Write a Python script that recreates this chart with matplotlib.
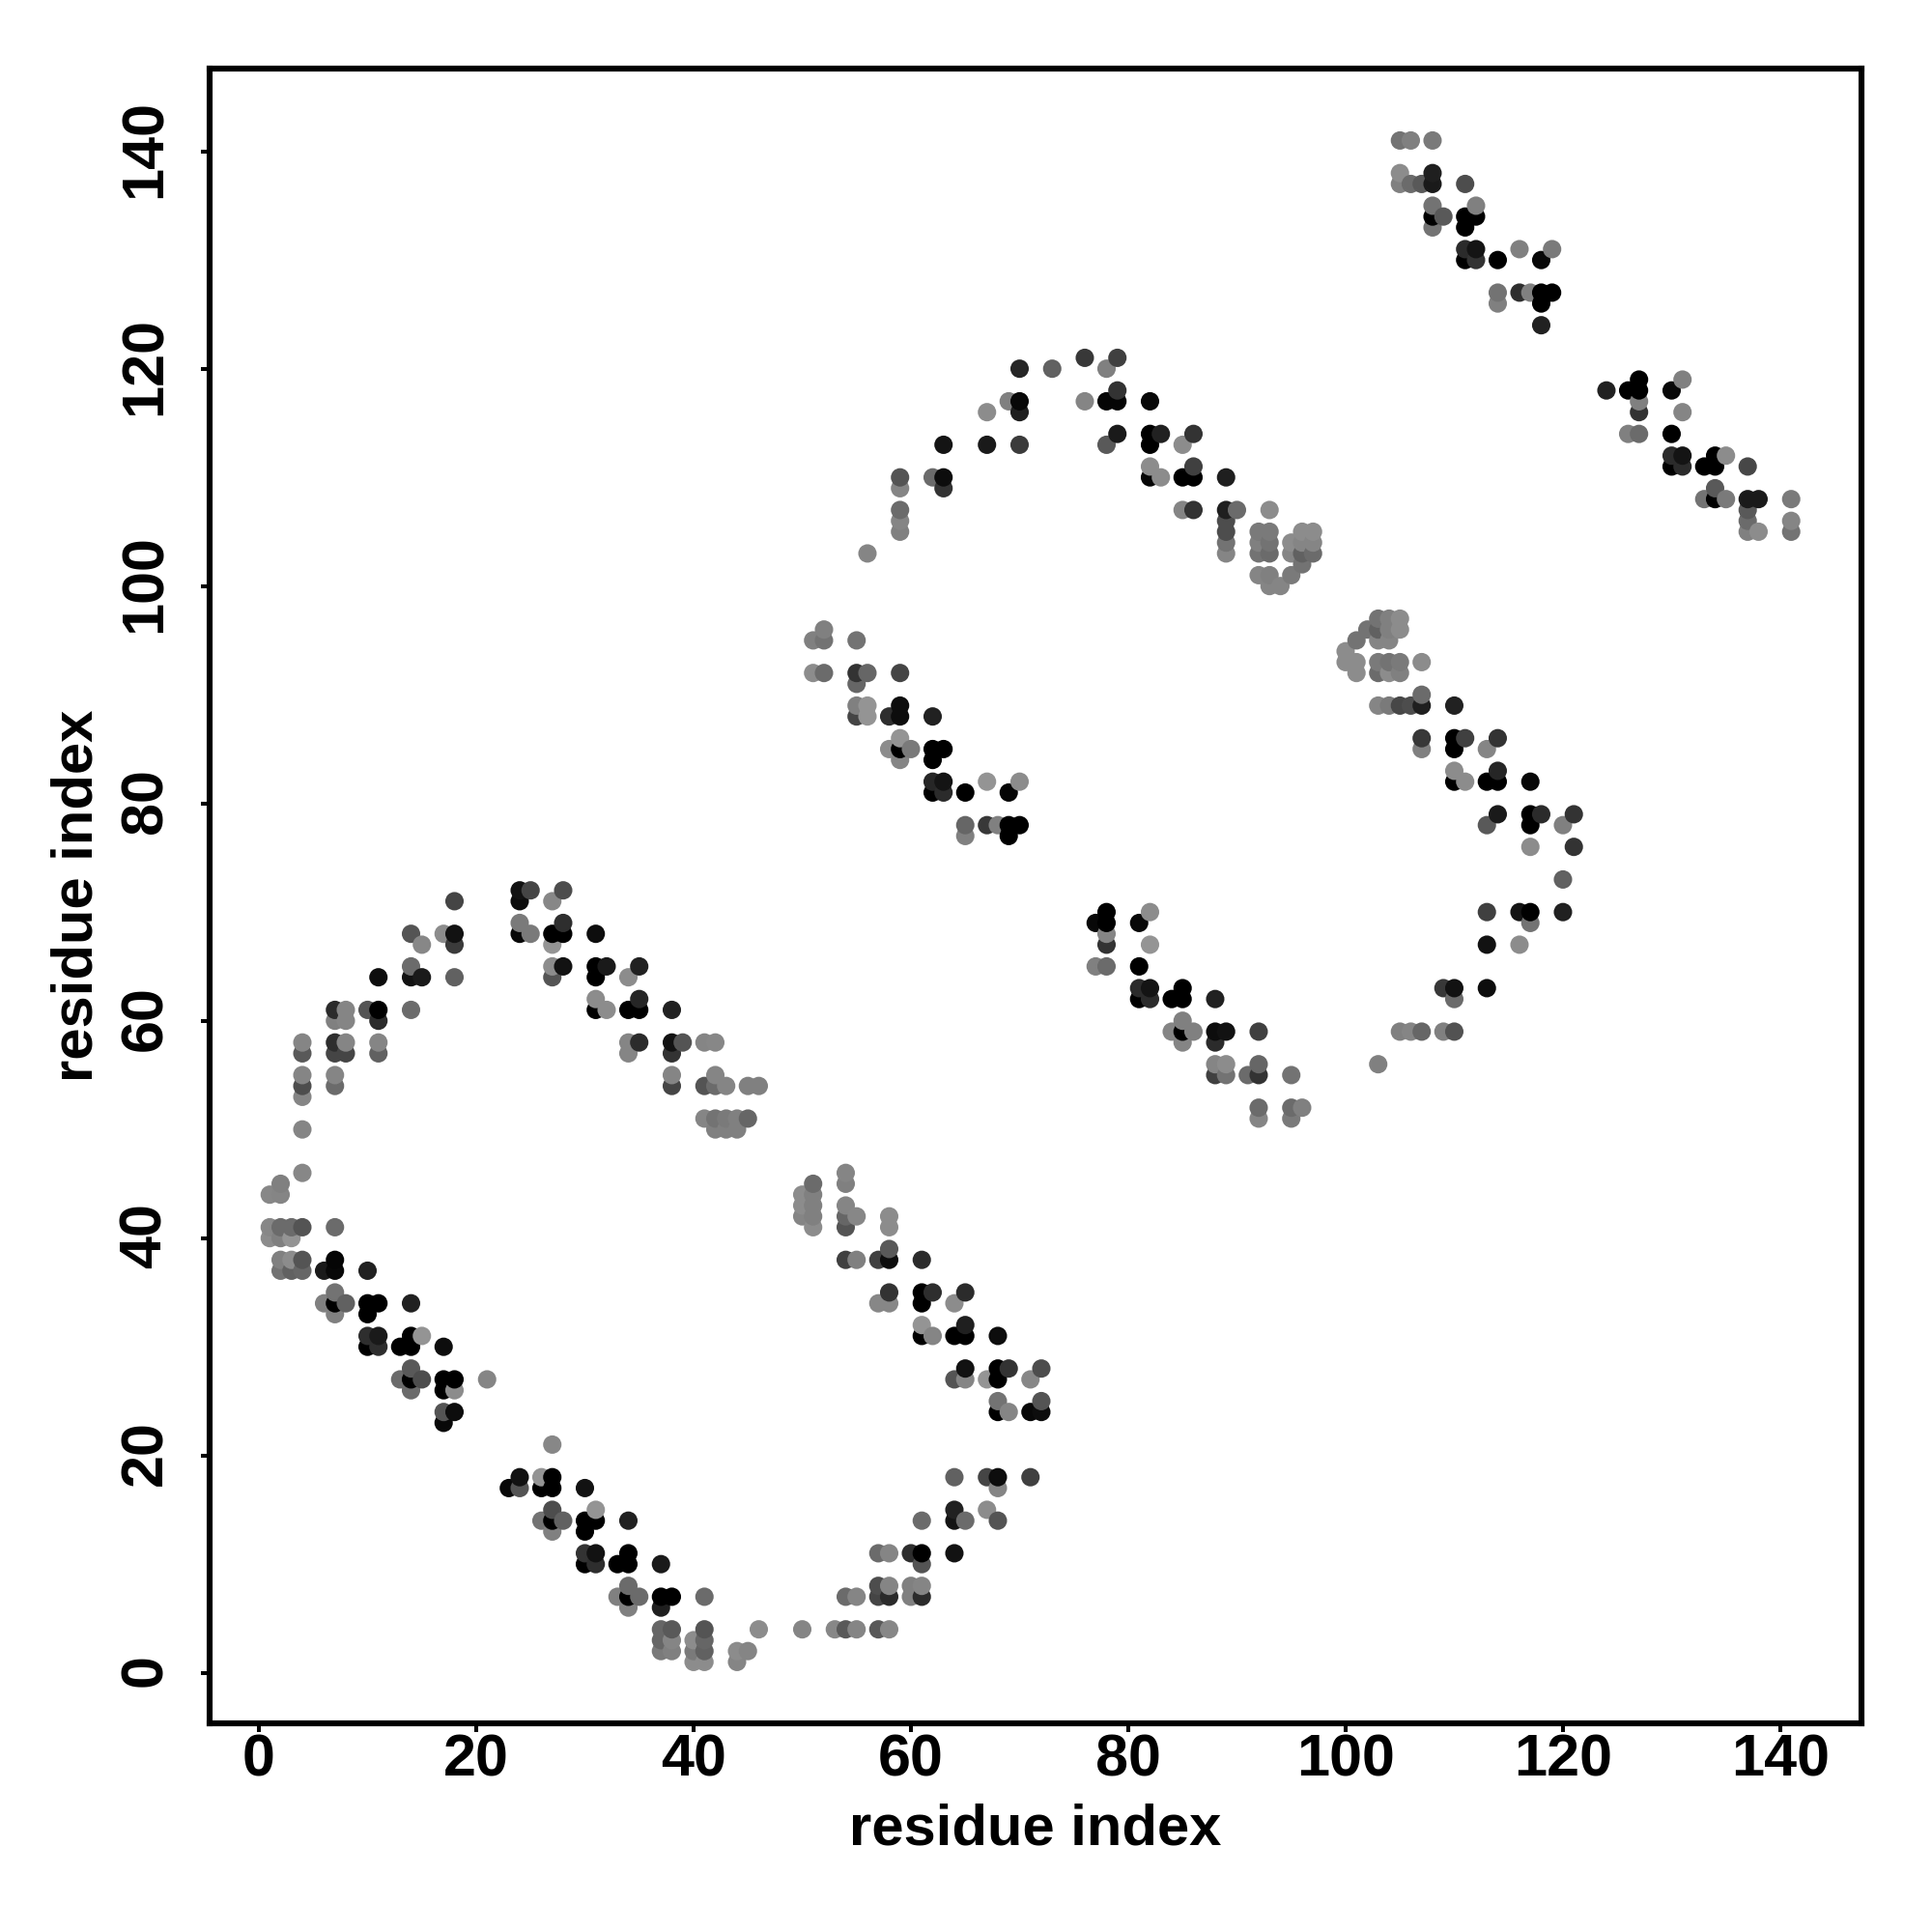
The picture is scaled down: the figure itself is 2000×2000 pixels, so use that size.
import numpy as np
import matplotlib
matplotlib.use("Agg")
import matplotlib.pyplot as plt
from matplotlib.transforms import ScaledTranslation

# (i, j, grey level) contacts, one list per diagonal band
band_a = [
(4,46,.53),(2,45,.5),(1,44,.53),(2,44,.52),(1,41,.53),(2,41,.42),(3,41,.42),(4,41,.33),(7,41,.42),
(1,40,.55),(2,40,.5),(3,40,.58),(2,38,.5),(3,38,.55),(4,38,.33),(7,38,.02),
(2,37,.45),(3,37,.38),(4,37,.4),(6,37,.1),(7,37,.03),(10,37,.13),
(7,35,.45),(6,34,.5),(7,34,0),(8,34,.38),(7,33,.5),(10,34,0),(11,34,0),(10,33,0),(14,34,.13),
(10,31,.18),(11,31,.1),(10,30,0),(11,30,.18),(13,30,0),(14,30,0),(14,31,0),(15,31,.58),(17,30,.05),
(14,28,.35),(13,27,.42),(14,27,0),(15,27,.3),(14,26,.42),(17,27,0),(18,27,0),(21,27,.52),(17,26,0),(18,26,.55),
(17,24,.33),(18,24,.05),(17,23,.03),
]
band_b = [
(27,21,.53),(24,18,.07),(26,18,.58),(27,18,0),(23,17,.03),(24,17,.33),(26,17,0),(27,17,0),(30,17,.07),
(27,15,.3),(31,15,.58),(26,14,.45),(27,14,0),(28,14,.38),(30,14,0),(31,14,0),(34,14,.13),(27,13,.5),(30,13,0),
(30,11,.2),(31,11,.07),(34,11,0),(30,10,0),(31,10,.18),(33,10,0),(34,10,0),(37,10,.1),
(34,8,.42),(33,7,.5),(34,7,0),(35,7,.42),(37,7,0),(38,7,0),(41,7,.42),(34,6,.5),(37,6,.12),
(37,4,.4),(38,4,.35),(41,4,.33),(46,4,.55),(37,3,.4),(38,3,.52),(40,3,.55),(41,3,.4),
(37,2,.48),(38,2,.5),(40,2,.48),(41,2,.38),(44,2,.55),(45,2,.52),(40,1,.55),(41,1,.55),(44,1,.52),
]
band_c = [
(54,46,.52),(51,45,.42),(54,45,.5),(50,44,.55),(51,44,.5),(50,43,.55),(51,43,.5),(54,43,.52),
(50,42,.52),(51,42,.5),(54,42,.4),(55,42,.53),(58,42,.55),(51,41,.55),(54,41,.33),(58,41,.55),
(58,39,.35),(54,38,.25),(55,38,.5),(57,38,.25),(58,38,.05),(61,38,.17),
(58,35,.2),(61,35,0),(62,35,.18),(65,35,.17),(57,34,.53),(58,34,.53),(61,34,0),(64,34,.55),
(61,32,.58),(65,32,.12),(61,31,0),(62,31,.52),(64,31,0),(65,31,0),(68,31,.05),
(65,28,.07),(68,28,0),(69,28,.2),(72,28,.3),(64,27,.33),(65,27,.52),(67,27,.58),(68,27,0),(71,27,.53),
(68,25,.45),(72,25,.33),(68,24,0),(69,24,.52),(71,24,.03),(72,24,.05),
]
band_d = [
(64,18,.38),(67,18,.27),(68,18,.05),(71,18,.25),(68,17,.52),(64,15,.13),(67,15,.55),
(61,14,.42),(64,14,.08),(65,14,.42),(68,14,.33),(57,11,.42),(58,11,.52),(60,11,.18),(61,11,0),(64,11,.07),
(61,10,.33),(57,8,.3),(58,8,.52),(60,8,.5),(61,8,.52),(54,7,.42),(55,7,.52),(57,7,.27),(58,7,.17),(60,7,.5),(61,7,.17),
(50,4,.52),(53,4,.53),(54,4,.35),(55,4,.52),(57,4,.35),(58,4,.53),
]
band_e = [
(24,72,.07),(25,72,.27),(28,72,.3),(18,71,.27),(24,71,.05),(27,71,.53),(24,69,.48),(28,69,.18),
(14,68,.33),(17,68,.55),(18,68,.07),(24,68,.03),(25,68,.48),(27,68,0),(28,68,0),(31,68,.05),
(15,67,.53),(18,67,.23),(27,67,.58),(14,65,.42),(27,65,.55),(28,65,.07),(31,65,0),(32,65,.1),(35,65,.13),
(11,64,.05),(14,64,.07),(15,64,.1),(18,64,.38),(27,64,.33),(31,64,0),(34,64,.55),(31,62,.55),(35,62,.15),
(7,61,.17),(8,61,.52),(10,61,.33),(11,61,0),(14,61,.42),(31,61,0),(32,61,.55),(34,61,0),(35,61,0),(38,61,.13),
(7,60,.5),(8,60,.52),(11,60,.17),(4,58,.52),(7,58,.18),(8,58,.52),(11,58,.52),(34,58,.52),(35,58,.17),(38,58,.07),(39,58,.33),(41,58,.52),(42,58,.53),
(4,57,.35),(7,57,.27),(8,57,.27),(11,57,.38),(34,57,.52),(38,57,.2),(4,55,.52),(7,55,.52),(38,55,.52),(42,55,.52),
(4,54,.3),(7,54,.42),(38,54,.27),(41,54,.33),(42,54,.42),(43,54,.52),(45,54,.5),(46,54,.5),(4,53,.52),
(41,51,.52),(42,51,.45),(43,51,.48),(44,51,.5),(45,51,.4),(4,50,.52),(42,50,.5),(43,50,.5),(44,50,.5),
]
band_f = [
(52,96,.5),(51,95,.5),(52,95,.45),(55,95,.45),(51,92,.55),(52,92,.42),(55,92,.2),(56,92,.4),(59,92,.27),(55,91,.4),
(55,89,.5),(56,89,.58),(59,89,.05),(55,88,.27),(56,88,.58),(58,88,.18),(59,88,.05),(62,88,.13),
(59,86,.58),(58,85,.55),(59,85,0),(60,85,.48),(62,85,0),(63,85,0),(59,84,.52),(62,84,0),
(62,82,.15),(63,82,.08),(67,82,.58),(70,82,.55),(62,81,0),(63,81,.17),(65,81,0),(69,81,.02),
(65,78,.4),(67,78,.22),(68,78,.5),(69,78,0),(70,78,0),(65,77,.5),(69,77,0),
]
band_g = [
(76,121,.22),(79,121,.25),(70,120,.15),(73,120,.38),(78,120,.5),(79,118,.2),
(69,117,.5),(70,117,.03),(76,117,.52),(78,117,.02),(79,117,.02),(82,117,.03),(67,116,.55),(70,116,.12),
(79,114,.1),(82,114,0),(83,114,.13),(86,114,.2),(63,113,.08),(67,113,.1),(70,113,.23),(78,113,.35),(82,113,0),(85,113,.55),
(82,111,.55),(86,111,.25),(59,110,.33),(62,110,.42),(63,110,.05),(82,110,.02),(83,110,.55),(85,110,0),(86,110,0),(89,110,.12),
(59,109,.52),(63,109,.2),(59,107,.42),(85,107,.52),(86,107,.2),(89,107,.12),(90,107,.42),(93,107,.55),
(59,106,.52),(89,106,.3),(59,105,.5),(89,105,.3),(92,105,.48),(93,105,.48),(96,105,.55),(97,105,.55),
(89,104,.45),(92,104,.5),(93,104,.45),(95,104,.55),(96,104,.52),(97,104,.52),
(56,103,.52),(89,103,.52),(92,103,.45),(93,103,.42),(95,103,.52),(96,103,.38),(97,103,.42),(96,102,.45),
(92,101,.52),(93,101,.5),(95,101,.48),(93,100,.52),(94,100,.52),
]
band_h = [
(78,70,0),(82,70,.55),(77,69,.03),(78,69,0),(81,69,.03),(78,68,.52),(78,67,.2),(82,67,.58),(77,65,.5),(78,65,.42),(81,65,0),
(81,63,.17),(82,63,.08),(85,63,0),(81,62,0),(82,62,.17),(84,62,0),(85,62,0),(88,62,.13),(85,60,.5),
(84,59,.52),(85,59,0),(86,59,.5),(88,59,.05),(89,59,.07),(92,59,.25),(85,58,.52),(88,58,.17),
(88,56,.52),(89,56,.55),(92,56,.4),(88,55,.25),(89,55,.45),(91,55,.42),(92,55,.2),(95,55,.45),
(92,52,.42),(95,52,.42),(96,52,.5),(92,51,.52),(95,51,.48),
]
band_i = [
(103,97,.45),(104,97,.5),(105,97,.55),(102,96,.45),(103,96,.38),(104,96,.5),(105,96,.55),(101,95,.45),(103,95,.52),(104,95,.52),
(100,94,.55),(100,93,.55),(101,93,.55),(103,93,.48),(104,93,.45),(105,93,.48),(107,93,.55),(101,92,.55),(103,92,.42),(104,92,.55),(105,92,.5),
(107,90,.42),(103,89,.52),(104,89,.48),(105,89,.28),(106,89,.3),(107,89,.12),(110,89,.13),
(107,86,.22),(110,86,0),(111,86,.25),(114,86,.2),(107,85,.5),(110,85,0),(113,85,.52),(110,83,.55),(114,83,.15),
(110,82,0),(111,82,.55),(113,82,0),(114,82,0),(117,82,.03),(114,79,.1),(117,79,0),(118,79,.17),(121,79,.2),
(113,78,.35),(117,78,0),(120,78,.5),(117,76,.55),(121,76,.2),
]
band_j = [
(120,73,.38),(113,70,.25),(116,70,.08),(117,70,0),(120,70,.13),(117,69,.45),(113,67,.07),(116,67,.55),
(109,63,.22),(110,63,.07),(113,63,.05),(110,62,.42),(105,59,.5),(106,59,.52),(107,59,.4),(109,59,.5),(110,59,.32),(103,56,.5),
]
band_k = [
(105,141,.45),(106,141,.5),(108,141,.48),(105,138,.55),(108,138,.12),(105,137,.5),(106,137,.42),(107,137,.35),(108,137,.1),(111,137,.3),
(108,135,.45),(112,135,.5),(108,134,0),(109,134,.35),(111,134,0),(112,134,0),(108,133,.45),(111,133,0),
(111,131,.17),(112,131,.08),(116,131,.5),(119,131,.48),(111,130,0),(112,130,.2),(114,130,0),(118,130,.03),
(114,127,.45),(116,127,.18),(117,127,.5),(118,127,0),(119,127,0),(114,126,.5),(118,126,0),(118,124,.13),
]
band_l = [
(127,119,0),(131,119,.5),(124,118,.13),(126,118,0),(127,118,0),(130,118,.03),(127,117,.5),(127,116,.2),(131,116,.52),
(126,114,.5),(127,114,.42),(130,114,0),(130,112,.17),(131,112,.08),(134,112,0),(135,112,.55),
(130,111,0),(131,111,.17),(133,111,0),(134,111,0),(137,111,.28),(134,109,.35),
(133,108,.45),(134,108,0),(135,108,.48),(137,108,.1),(138,108,.1),(141,108,.48),(137,107,.35),
(137,106,.42),(141,106,.52),(137,105,.5),(138,105,.55),(141,105,.45),
]
tick_values = [0, 20, 40, 60, 80, 100, 120, 140]
axis_label = "residue index"

plt.rcParams["font.family"] = ["Liberation Sans", "DejaVu Sans"]
plt.rcParams["font.weight"] = "bold"
fig = plt.figure(figsize=(10, 10), dpi=200)
ax = fig.add_axes([216.7/2000, 1 - 1784/2000, (1927-216.7)/2000, (1784-71.4)/2000])

pts = sorted(band_a + band_b + band_c + band_d + band_e + band_f + band_g + band_h + band_i + band_j + band_k + band_l,
             key=lambda p: (p[0], p[1]))
xs = [p[0] for p in pts]
ys = [p[1] for p in pts]
cs = [str(p[2]) for p in pts]
ax.scatter(xs, ys, s=47, c=cs, linewidths=0, zorder=3)

ax.set_xlim(-4.56, 147.47)
ax.set_ylim(-4.65, 147.58)
ax.set_xticks(tick_values)
ax.set_yticks(tick_values)
ax.tick_params(axis="x", length=3.2, width=1.45, labelsize=22, pad=0.7)
ax.tick_params(axis="y", length=3.2, width=1.45, labelsize=22, pad=10)
shift_up = ScaledTranslation(0, 2.5/200, fig.dpi_scale_trans)
for lab in ax.get_yticklabels():
    lab.set_rotation(90)
    lab.set_va("center")
    lab.set_transform(lab.get_transform() + shift_up)
for s in ax.spines.values():
    s.set_linewidth(2.2)
ax.set_xlabel(axis_label, fontsize=21.5, fontweight="bold", va="center")
ax.set_ylabel(axis_label, fontsize=21.5, fontweight="bold", va="center")
ax.xaxis.set_label_coords(0.5, -0.0640)
ax.yaxis.set_label_coords(-0.0797, 0.5)
fig.savefig("out.png", dpi=200)
